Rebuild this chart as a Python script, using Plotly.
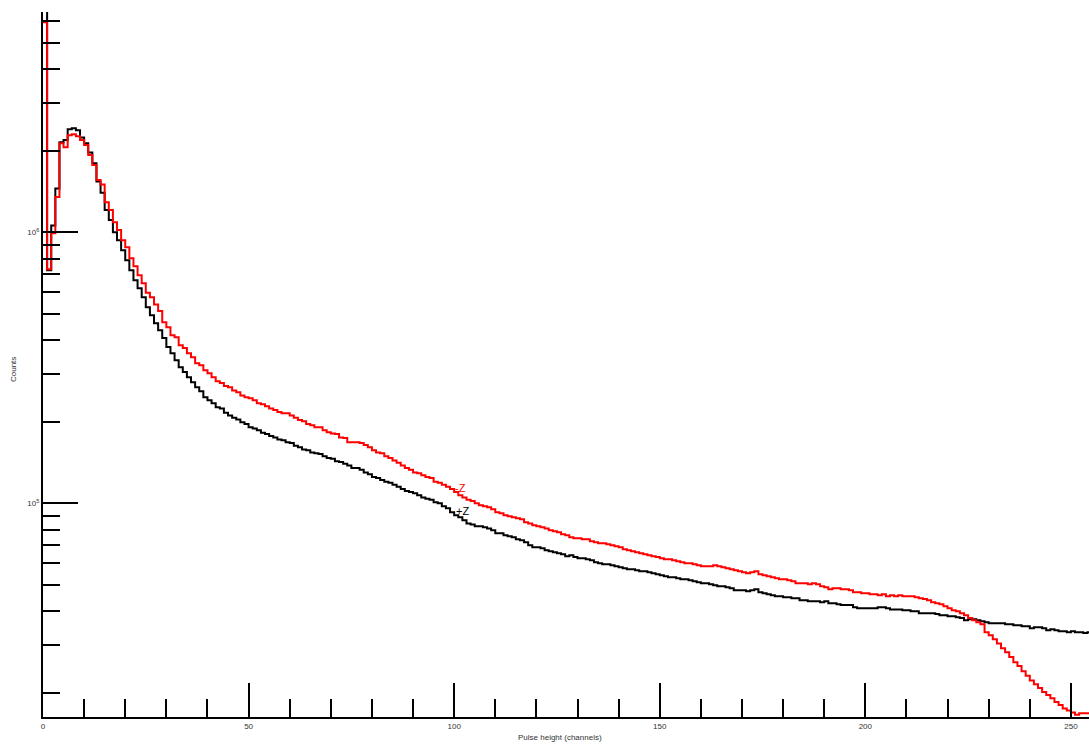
import plotly.graph_objects as go

# Bin index (pulse height channel), 256 channels
channels = list(range(256))

# Counts per channel, +Z detector (black)
plus_z = [7.5e6, 7.24e5, 1.06e6, 1.45e6, 2.15e6, 2.19e6, 2.40e6, 2.42e6, 2.38e6, 2.24e6,
          2.13e6, 1.97e6, 1.80e6, 1.54e6, 1.40e6, 1.21e6, 1.11e6, 1.00e6, 9.34e5, 8.58e5,
          7.89e5, 7.24e5, 6.65e5, 6.22e5, 5.76e5, 5.29e5, 4.94e5, 4.62e5, 4.35e5, 4.07e5,
          3.77e5, 3.58e5, 3.37e5, 3.18e5, 3.05e5, 2.92e5, 2.80e5, 2.68e5, 2.59e5, 2.46e5,
          2.40e5, 2.34e5, 2.26e5, 2.24e5, 2.16e5, 2.11e5, 2.07e5, 2.04e5, 1.99e5, 1.96e5,
          1.91e5, 1.89e5, 1.86e5, 1.82e5, 1.80e5, 1.77e5, 1.75e5, 1.72e5, 1.71e5, 1.68e5,
          1.67e5, 1.63e5, 1.61e5, 1.58e5, 1.57e5, 1.54e5, 1.53e5, 1.52e5, 1.49e5, 1.47e5,
          1.46e5, 1.43e5, 1.42e5, 1.40e5, 1.38e5, 1.35e5, 1.35e5, 1.33e5, 1.30e5, 1.28e5,
          1.25e5, 1.24e5, 1.22e5, 1.20e5, 1.19e5, 1.17e5, 1.15e5, 1.13e5, 1.11e5, 1.10e5,
          1.09e5, 1.07e5, 1.05e5, 1.04e5, 1.03e5, 1.01e5, 1.00e5, 9.75e4, 9.58e4, 9.27e4,
          9.03e4, 8.88e4, 8.66e4, 8.43e4, 8.36e4, 8.22e4, 8.22e4, 8.15e4, 8.08e4, 7.95e4,
          7.75e4, 7.75e4, 7.62e4, 7.56e4, 7.49e4, 7.37e4, 7.30e4, 7.18e4, 7.00e4, 6.88e4,
          6.88e4, 6.82e4, 6.71e4, 6.65e4, 6.60e4, 6.54e4, 6.49e4, 6.38e4, 6.43e4, 6.33e4,
          6.27e4, 6.27e4, 6.22e4, 6.16e4, 6.06e4, 6.01e4, 5.96e4, 5.96e4, 5.91e4, 5.86e4,
          5.81e4, 5.76e4, 5.71e4, 5.71e4, 5.66e4, 5.61e4, 5.61e4, 5.57e4, 5.52e4, 5.47e4,
          5.43e4, 5.38e4, 5.33e4, 5.33e4, 5.29e4, 5.24e4, 5.24e4, 5.20e4, 5.16e4, 5.11e4,
          5.07e4, 5.07e4, 5.03e4, 4.98e4, 4.94e4, 4.94e4, 4.90e4, 4.86e4, 4.78e4, 4.78e4,
          4.78e4, 4.74e4, 4.78e4, 4.82e4, 4.70e4, 4.66e4, 4.62e4, 4.58e4, 4.54e4, 4.54e4,
          4.50e4, 4.50e4, 4.46e4, 4.46e4, 4.39e4, 4.39e4, 4.35e4, 4.35e4, 4.35e4, 4.31e4,
          4.35e4, 4.28e4, 4.28e4, 4.24e4, 4.21e4, 4.21e4, 4.21e4, 4.13e4, 4.10e4, 4.10e4,
          4.10e4, 4.10e4, 4.10e4, 4.13e4, 4.13e4, 4.10e4, 4.06e4, 4.06e4, 4.06e4, 4.03e4,
          4.03e4, 4.00e4, 4.00e4, 3.93e4, 3.93e4, 3.93e4, 3.93e4, 3.90e4, 3.86e4, 3.86e4,
          3.83e4, 3.83e4, 3.80e4, 3.77e4, 3.70e4, 3.73e4, 3.73e4, 3.70e4, 3.67e4, 3.64e4,
          3.61e4, 3.61e4, 3.61e4, 3.61e4, 3.58e4, 3.58e4, 3.55e4, 3.55e4, 3.52e4, 3.52e4,
          3.46e4, 3.49e4, 3.49e4, 3.46e4, 3.40e4, 3.43e4, 3.40e4, 3.37e4, 3.37e4, 3.34e4,
          3.37e4, 3.34e4, 3.34e4, 3.32e4, 3.34e4, 3.34e4]

# Counts per channel, -Z detector (red)
minus_z = [5.96e6, 7.31e5, 9.92e5, 1.35e6, 2.13e6, 2.06e6, 2.28e6, 2.30e6, 2.26e6, 2.19e6,
           2.10e6, 1.93e6, 1.77e6, 1.56e6, 1.50e6, 1.29e6, 1.21e6, 1.09e6, 1.02e6, 9.34e5,
           8.81e5, 8.02e5, 7.49e5, 6.95e5, 6.48e5, 5.99e5, 5.76e5, 5.42e5, 5.12e5, 4.66e5,
           4.46e5, 4.17e5, 4.10e5, 3.83e5, 3.74e5, 3.58e5, 3.46e5, 3.29e5, 3.23e5, 3.10e5,
           3.02e5, 2.92e5, 2.82e5, 2.78e5, 2.71e5, 2.68e5, 2.61e5, 2.57e5, 2.50e5, 2.46e5,
           2.44e5, 2.40e5, 2.34e5, 2.32e5, 2.28e5, 2.24e5, 2.21e5, 2.17e5, 2.15e5, 2.15e5,
           2.11e5, 2.07e5, 2.03e5, 2.01e5, 1.96e5, 1.94e5, 1.91e5, 1.91e5, 1.86e5, 1.83e5,
           1.81e5, 1.80e5, 1.75e5, 1.74e5, 1.68e5, 1.68e5, 1.68e5, 1.67e5, 1.64e5, 1.61e5,
           1.57e5, 1.54e5, 1.53e5, 1.49e5, 1.47e5, 1.44e5, 1.41e5, 1.38e5, 1.35e5, 1.33e5,
           1.30e5, 1.29e5, 1.27e5, 1.25e5, 1.24e5, 1.20e5, 1.19e5, 1.17e5, 1.15e5, 1.13e5,
           1.10e5, 1.07e5, 1.05e5, 1.03e5, 1.02e5, 1.00e5, 9.83e4, 9.75e4, 9.67e4, 9.50e4,
           9.27e4, 9.19e4, 9.03e4, 8.95e4, 8.88e4, 8.80e4, 8.73e4, 8.51e4, 8.43e4, 8.29e4,
           8.22e4, 8.15e4, 8.08e4, 7.95e4, 7.88e4, 7.82e4, 7.69e4, 7.62e4, 7.49e4, 7.43e4,
           7.43e4, 7.37e4, 7.37e4, 7.24e4, 7.18e4, 7.12e4, 7.12e4, 7.06e4, 7.00e4, 6.94e4,
           6.88e4, 6.77e4, 6.71e4, 6.65e4, 6.60e4, 6.54e4, 6.49e4, 6.43e4, 6.38e4, 6.33e4,
           6.27e4, 6.22e4, 6.22e4, 6.16e4, 6.11e4, 6.06e4, 6.01e4, 6.01e4, 5.96e4, 5.91e4,
           5.86e4, 5.86e4, 5.86e4, 5.91e4, 5.86e4, 5.81e4, 5.76e4, 5.71e4, 5.66e4, 5.61e4,
           5.57e4, 5.52e4, 5.57e4, 5.61e4, 5.47e4, 5.43e4, 5.38e4, 5.33e4, 5.29e4, 5.24e4,
           5.24e4, 5.20e4, 5.16e4, 5.07e4, 5.07e4, 5.07e4, 5.03e4, 5.07e4, 5.03e4, 4.94e4,
           4.90e4, 4.82e4, 4.86e4, 4.86e4, 4.82e4, 4.82e4, 4.78e4, 4.70e4, 4.70e4, 4.66e4,
           4.66e4, 4.62e4, 4.62e4, 4.58e4, 4.62e4, 4.54e4, 4.58e4, 4.54e4, 4.58e4, 4.54e4,
           4.54e4, 4.54e4, 4.50e4, 4.46e4, 4.43e4, 4.39e4, 4.31e4, 4.28e4, 4.24e4, 4.17e4,
           4.10e4, 4.03e4, 4.00e4, 3.93e4, 3.86e4, 3.77e4, 3.70e4, 3.64e4, 3.58e4, 3.34e4,
           3.26e4, 3.15e4, 3.04e4, 2.92e4, 2.82e4, 2.71e4, 2.59e4, 2.51e4, 2.40e4, 2.31e4,
           2.22e4, 2.15e4, 2.08e4, 2.01e4, 1.96e4, 1.91e4, 1.85e4, 1.80e4, 1.75e4, 1.72e4,
           1.69e4, 1.66e4, 1.68e4, 1.68e4, 1.68e4, 1.68e4]

x_major_ticks = [0, 50, 100, 150, 200, 250]
x_tick_text = ["0", "50", "100", "150", "200", "250"]
x_minor_ticks = [v for v in range(10, 260, 10) if v % 50 != 0]
y_major_ticks = [1e5, 1e6]
y_tick_text = ["10<sup>5</sup>", "10<sup>6</sup>"]
y_minor_ticks = [2e4, 3e4, 4e4, 5e4, 6e4, 7e4, 8e4, 9e4,
                 2e5, 3e5, 4e5, 5e5, 6e5, 7e5, 8e5, 9e5,
                 2e6, 3e6, 4e6, 5e6, 6e6]

series = [("+Z", plus_z, "#000000"), ("-Z", minus_z, "#ff0000")]

# step edges: each bin drawn from its left edge to right edge
edges = channels + [channels[-1] + 1]

fig = go.Figure()
for name, vals, col in series:
    fig.add_trace(go.Scatter(
        x=edges, y=vals + [vals[-1]], mode="lines", name=name,
        line=dict(color=col, width=2, shape="hv"), showlegend=False,
        hoverinfo="skip"))

FONT = "Liberation Sans, Arial, sans-serif"
LABEL_COL = "#333333"
fig.update_layout(
    width=1089, height=745,
    margin=dict(l=43, r=0, t=12, b=28, autoexpand=False),
    paper_bgcolor="white", plot_bgcolor="white",
    font=dict(family=FONT, size=8, color=LABEL_COL),
    xaxis=dict(
        range=[0, 254.4], showgrid=False, zeroline=False,
        showline=True, linecolor="black", linewidth=2,
        tickmode="array", tickvals=x_major_ticks, ticktext=x_tick_text,
        ticks="inside", ticklen=34, tickwidth=2, tickcolor="black",
        tickfont=dict(size=8, color=LABEL_COL, family=FONT),
        minor=dict(tickmode="array", tickvals=x_minor_ticks, ticks="inside",
                   ticklen=18, tickwidth=2, tickcolor="black", showgrid=False),
    ),
    yaxis=dict(
        type="log", range=[4.2114, 6.813], showgrid=False, zeroline=False,
        showline=True, linecolor="black", linewidth=2,
        tickmode="array", tickvals=y_major_ticks, ticktext=y_tick_text,
        ticks="inside", ticklen=35, tickwidth=2, tickcolor="black",
        tickfont=dict(size=8, color=LABEL_COL, family=FONT),
        minor=dict(tickmode="array", tickvals=y_minor_ticks, ticks="inside",
                   ticklen=17, tickwidth=2, tickcolor="black", showgrid=False),
    ),
    annotations=[
        dict(text="-Z", x=99.6, y=5.055, xref="x", yref="y", xanchor="left",
             yanchor="middle", showarrow=False,
             font=dict(size=11, color="#ff0000", family=FONT)),
        dict(text="+Z", x=100.0, y=4.9705, xref="x", yref="y", xanchor="left",
             yanchor="middle", showarrow=False,
             font=dict(size=11, color="#000000", family=FONT)),
        dict(text="Pulse height (channels)", x=560, y=737, xref="paper", yref="paper",
             xanchor="center", yanchor="middle", showarrow=False,
             font=dict(size=8, color=LABEL_COL, family=FONT)),
        dict(text="Counts", textangle=-90, x=13, y=370, xref="paper", yref="paper",
             xanchor="center", yanchor="middle", showarrow=False,
             font=dict(size=8, color=LABEL_COL, family=FONT)),
    ],
)

# convert pixel placements of the two axis titles into paper fractions
plot_w = 1089 - 43
plot_h = 745 - 12 - 28
for ann in fig.layout.annotations:
    if ann.xref == "paper":
        ann.x = (ann.x - 43) / plot_w
        ann.y = (745 - 28 - ann.y) / plot_h

fig.write_html("out.html", config={"displayModeBar": False},
               post_script="document.body.style.margin='0';")
